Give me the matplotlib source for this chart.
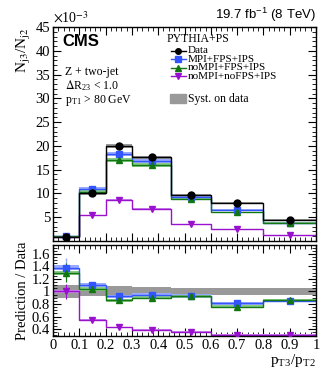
import numpy as np
import matplotlib.pyplot as plt
from matplotlib.ticker import MultipleLocator, AutoMinorLocator
from matplotlib.patches import Rectangle

edges = [0.0, 0.1, 0.2, 0.3, 0.45, 0.6, 0.8, 1.0]
centers = [0.05, 0.15, 0.25, 0.375, 0.525, 0.7, 0.9]

data = [0.8, 10.0, 19.9, 17.6, 9.6, 8.0, 4.4]
data_syst = [0.15, 0.3, 0.4, 0.35, 0.25, 0.2, 0.2]
mpi_fps_ips = [1.1, 11.0, 18.3, 16.8, 9.2, 6.5, 3.8]
nompi_fps_ips = [1.0, 10.4, 17.0, 15.9, 8.8, 6.0, 3.8]
nompi_nofps_ips = [0.8, 5.4, 8.6, 6.8, 3.5, 2.5, 1.2]

ratio_mpi = [1.38, 1.10, 0.92, 0.95, 0.93, 0.81, 0.85]
ratio_nompi = [1.30, 1.04, 0.86, 0.90, 0.92, 0.76, 0.86]
ratio_nofps = [1.00, 0.54, 0.43, 0.39, 0.36, 0.31, 0.31]
syst_band = [0.10, 0.08, 0.09, 0.07, 0.06, 0.06, 0.05]

series = [
    ("MPI+FPS+IPS", mpi_fps_ips, ratio_mpi, "#3355ff", "#99aaff", "s"),
    ("noMPI+FPS+IPS", nompi_fps_ips, ratio_nompi, "#117711", "#88cc88", "^"),
    ("noMPI+noFPS+IPS", nompi_nofps_ips, ratio_nofps, "#9911cc", "#cc88ee", "v"),
]

plt.rcParams["font.family"] = ["Liberation Serif", "DejaVu Serif"]
plt.rcParams["mathtext.fontset"] = "stix"

fig = plt.figure(figsize=(3.32, 3.75), dpi=100)
ax = fig.add_axes([53 / 332, 1 - 241 / 375, 263 / 332, 214 / 375])
axr = fig.add_axes([53 / 332, 1 - 336 / 375, 263 / 332, 91 / 375])


def band(a, vals, rel, color, zorder=2):
    v = np.array(vals)
    a.stairs(v * (1 + rel), edges, baseline=v * (1 - rel), fill=True, color=color,
             lw=0, zorder=zorder)


# main panel
lo = np.array(data) - np.array(data_syst)
hi = np.array(data) + np.array(data_syst)
ax.stairs(hi, edges, baseline=lo, fill=True, color="#999999", zorder=1)
ax.stairs(data, edges, color="black", lw=1.0, zorder=3, baseline=None)
for name, vals, _, col, light, mk in series:
    band(ax, vals, 0.025, light)
    ax.stairs(vals, edges, color=col, lw=1.0, zorder=2.5, baseline=None)
    ax.plot(centers, vals, marker=mk, color=col, ls="none", ms=5, zorder=4)
ax.plot(centers, data, marker="o", color="black", ls="none", ms=5, zorder=5)

ax.set_xlim(0, 1)
ax.set_ylim(0, 45)
ax.set_yticks([5, 10, 15, 20, 25, 30, 35, 40, 45])
ax.yaxis.set_minor_locator(AutoMinorLocator(5))
ax.xaxis.set_major_locator(MultipleLocator(0.1))
ax.xaxis.set_minor_locator(AutoMinorLocator(5))
ax.tick_params(labelbottom=False)
ax.set_ylabel(r"N$_{\mathrm{j3}}$/N$_{\mathrm{j2}}$", fontsize=11, loc="top", labelpad=2)
ax.text(0.0, 1.005, r"$\times$10$^{-3}$", transform=ax.transAxes, fontsize=10, va="bottom")
ax.text(0.035, 0.965, "CMS", transform=ax.transAxes, fontsize=12, fontweight="bold",
        family="Liberation Sans", va="top")
ax.text(1.0, 1.015, r"19.7 fb$^{\mathregular{-1}}$ (8 TeV)", transform=ax.transAxes,
        fontsize=9.5, family="Liberation Sans", ha="right", va="bottom")
ax.text(0.045, 0.79, "Z + two-jet", transform=ax.transAxes, fontsize=8.5, va="center")
ax.text(0.045, 0.725, r"$\Delta$R$_{\mathregular{23}}$ < 1.0", transform=ax.transAxes,
        fontsize=8.5, va="center")
ax.text(0.045, 0.655, r"p$_{\mathregular{T1}}$ > 80 GeV", transform=ax.transAxes,
        fontsize=8.5, va="center")

# legend, placed by hand to get the tight ROOT-style spacing
tr = ax.transAxes
ax.text(0.433, 0.945, "PYTHIA+PS", transform=tr, fontsize=8.5, va="center")
entries = [("Data", "black", "o")] + [(s[0], s[3], s[5]) for s in series]
for i, (lab, col, mk) in enumerate(entries):
    yy = 0.890 - i * 0.040
    ax.plot([0.447, 0.505], [yy, yy], color=col, lw=1, transform=tr, clip_on=False)
    ax.plot([0.476], [yy], marker=mk, color=col, ms=4, transform=tr, clip_on=False)
    ax.text(0.513, yy, lab, transform=tr, fontsize=8, va="center")
ax.add_patch(Rectangle((0.445, 0.643), 0.062, 0.045, transform=tr, color="#999999"))
ax.text(0.513, 0.665, "Syst. on data", transform=tr, fontsize=8.5, va="center")

# ratio panel
sb = np.array(syst_band)
axr.stairs(1 + sb, edges, baseline=1 - sb, fill=True, color="#999999", zorder=1)
for name, _, rat, col, light, mk in series:
    band(axr, rat, 0.025, light)
    axr.stairs(rat, edges, color=col, lw=1.0, zorder=2.5, baseline=None)
    axr.plot(centers, rat, marker=mk, color=col, ls="none", ms=5, zorder=4)
axr.errorbar([0.05], [1.38], yerr=[0.16], color="#99aaff", ls="none", lw=1.0, zorder=3)
axr.errorbar([0.05], [1.30], yerr=[0.15], color="#117711", ls="none", lw=0.8, zorder=3)
axr.errorbar([0.05], [1.00], yerr=[0.12], color="#9911cc", ls="none", lw=0.8, zorder=3)

axr.set_xlim(0, 1)
axr.set_ylim(0.29, 1.74)
axr.set_yticks([0.4, 0.6, 0.8, 1.0, 1.2, 1.4, 1.6])
axr.set_yticklabels(["0.4", "0.6", "0.8", "1", "1.2", "1.4", "1.6"])
axr.yaxis.set_minor_locator(AutoMinorLocator(4))
axr.set_xticks(np.arange(0, 1.01, 0.1))
axr.set_xticklabels(["0", "0.1", "0.2", "0.3", "0.4", "0.5", "0.6", "0.7", "0.8", "0.9", "1"])
axr.xaxis.set_minor_locator(AutoMinorLocator(5))
axr.set_ylabel("Prediction / Data", fontsize=10.5, labelpad=2)
axr.set_xlabel(r"p$_{\mathregular{T3}}$/p$_{\mathregular{T2}}$", fontsize=11, loc="right",
               labelpad=0)

for a in (ax, axr):
    a.tick_params(which="both", direction="in", top=True, right=True, labelsize=10.5, pad=2)
    a.tick_params(which="major", length=6)
    a.tick_params(which="minor", length=3)
    for s in a.spines.values():
        s.set_linewidth(1.0)

fig.savefig("out.png", dpi=100)
